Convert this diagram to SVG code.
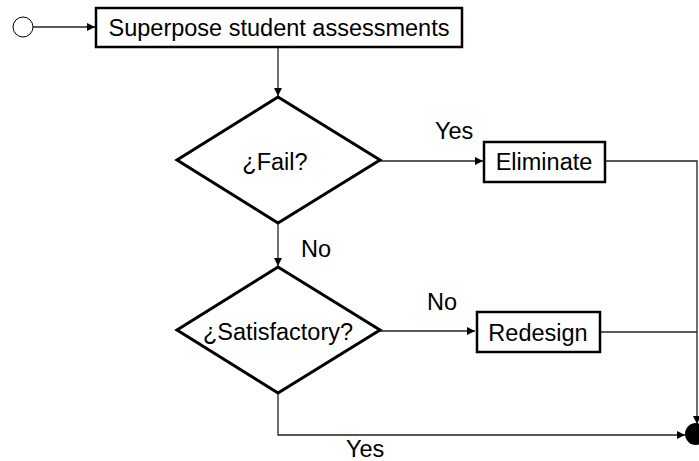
<svg xmlns="http://www.w3.org/2000/svg" width="699" height="461" viewBox="0 0 699 461">
  <style>
    .box { fill: #fff; stroke: #000; stroke-width: 2.5; }
    .dia { fill: #fff; stroke: #000; stroke-width: 3; stroke-linejoin: miter; }
    .lbl { font-family: "Liberation Sans", Arial, sans-serif; font-size: 23.5px; fill: #000; }
    .edge { fill: none; stroke: #222; stroke-width: 1.3; }
  </style>
  <defs>
    <marker id="arrow" viewBox="0 0 10 10" refX="10" refY="5" markerWidth="8" markerHeight="8" markerUnits="userSpaceOnUse" orient="auto">
      <path d="M0,0 L10,5 L0,10 Z" fill="#000"/>
    </marker>
  </defs>

  <g id="connectors">
    <line class="edge" x1="33" y1="27" x2="95" y2="27" marker-end="url(#arrow)"/>
    <line class="edge" x1="278" y1="48" x2="278" y2="96" marker-end="url(#arrow)"/>
    <line class="edge" x1="380" y1="161" x2="483" y2="161" marker-end="url(#arrow)"/>
    <line class="edge" x1="278" y1="223" x2="278" y2="266" marker-end="url(#arrow)"/>
    <line class="edge" x1="380" y1="331" x2="475" y2="331" marker-end="url(#arrow)"/>
    <polyline class="edge" points="605,161 697,161 697,424" marker-end="url(#arrow)"/>
    <line class="edge" x1="600" y1="332" x2="697" y2="332"/>
    <polyline class="edge" points="278,393 278,435 685,435" marker-end="url(#arrow)"/>
    <text class="lbl" x="435" y="139">Yes</text>
    <text class="lbl" x="301" y="257">No</text>
    <text class="lbl" x="427" y="310">No</text>
    <text class="lbl" x="346" y="457">Yes</text>
  </g>

  <g id="start">
    <circle cx="23" cy="27" r="10" fill="#fff" stroke="#000" stroke-width="1"/>
  </g>

  <g id="superpose">
    <rect class="box" x="96" y="8" width="366" height="39"/>
    <text class="lbl" x="279" y="36" text-anchor="middle">Superpose student assessments</text>
  </g>

  <g id="fail">
    <polygon class="dia" points="278,97 380,160 278,223 177,160"/>
    <text class="lbl" x="275" y="170" text-anchor="middle">¿Fail?</text>
  </g>

  <g id="eliminate">
    <rect class="box" x="484" y="142" width="121" height="40"/>
    <text class="lbl" x="544" y="170" text-anchor="middle">Eliminate</text>
  </g>

  <g id="satisfactory">
    <polygon class="dia" points="278,267 380,330 278,393 177,330"/>
    <text class="lbl" x="278" y="340" text-anchor="middle">¿Satisfactory?</text>
  </g>

  <g id="redesign">
    <rect class="box" x="477" y="312" width="123" height="40"/>
    <text class="lbl" x="538" y="341" text-anchor="middle">Redesign</text>
  </g>

  <g id="end">
    <circle cx="696" cy="434" r="11" fill="#000"/>
  </g>
</svg>
